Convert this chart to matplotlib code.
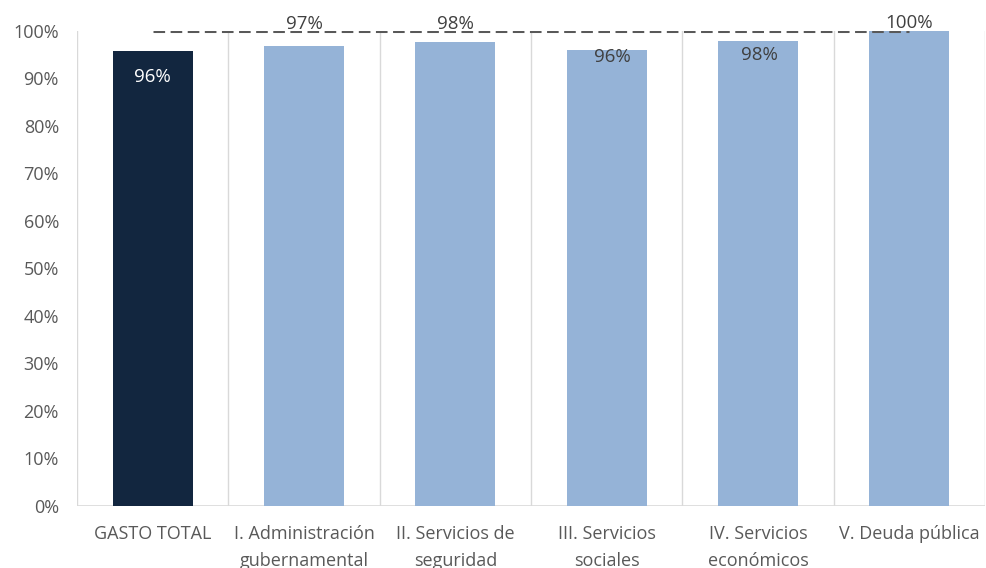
import matplotlib
matplotlib.use('Agg')
from matplotlib import pyplot as plt
from matplotlib.ticker import PercentFormatter

categories = ['GASTO TOTAL', 'I. Administración\ngubernamental', 'II. Servicios de\nseguridad',
              'III. Servicios\nsociales', 'IV. Servicios\neconómicos', 'V. Deuda pública']
values = [95.8, 96.8, 97.7, 96.0, 97.9, 100.0]
labels = ['96%', '97%', '98%', '96%', '98%', '100%']
target = 100

navy = '#12263F'
light = '#95B3D7'
grid_col = '#D9D9D9'
text_col = '#595959'

plt.rcParams['font.family'] = ['Open Sans', 'DejaVu Sans']

fig = plt.figure(figsize=(9.86, 5.68), dpi=100)
ax = fig.add_axes([0.0781, 0.1092, 0.9209, 0.8363])

x = range(len(values))
colors = [navy] + [light] * (len(values) - 1)
ax.bar(x, values, width=0.53, color=colors, zorder=2)

# target line, center of first bar to center of last
ax.plot([0, len(values) - 1], [target, target], color='#595959', lw=2.2,
        dashes=(3.8, 1.8), zorder=3)

# vertical separators between categories
for b in range(len(values) + 1):
    ax.axvline(b - 0.5, color=grid_col, lw=1, zorder=1)
ax.axhline(0, color=grid_col, lw=1.2, zorder=1)

# data labels, placed as in the original
label_y = [90.3, 101.4, 101.4, 94.6, 94.9, 101.6]
label_dx = [0, 0, 0, 0.04, 0.01, 0]
for i, (lab, ly) in enumerate(zip(labels, label_y)):
    col = 'white' if i == 0 else '#404040'
    ax.text(i + label_dx[i], ly, lab, ha='center', va='center', fontsize=13.5, color=col, zorder=4)

ax.set_xlim(-0.5, len(values) - 0.5)
ax.set_ylim(0, 100)
ax.set_yticks(range(0, 101, 10))
ax.yaxis.set_major_formatter(PercentFormatter(decimals=0))
ax.set_xticks(list(x))
ax.set_xticklabels(categories, linespacing=1.6)
ax.tick_params(axis='both', length=0, labelsize=13, colors=text_col)
ax.tick_params(axis='y', pad=13)
ax.tick_params(axis='x', pad=14)
for s in ax.spines.values():
    s.set_visible(False)

plt.savefig('out.png', dpi=100)
